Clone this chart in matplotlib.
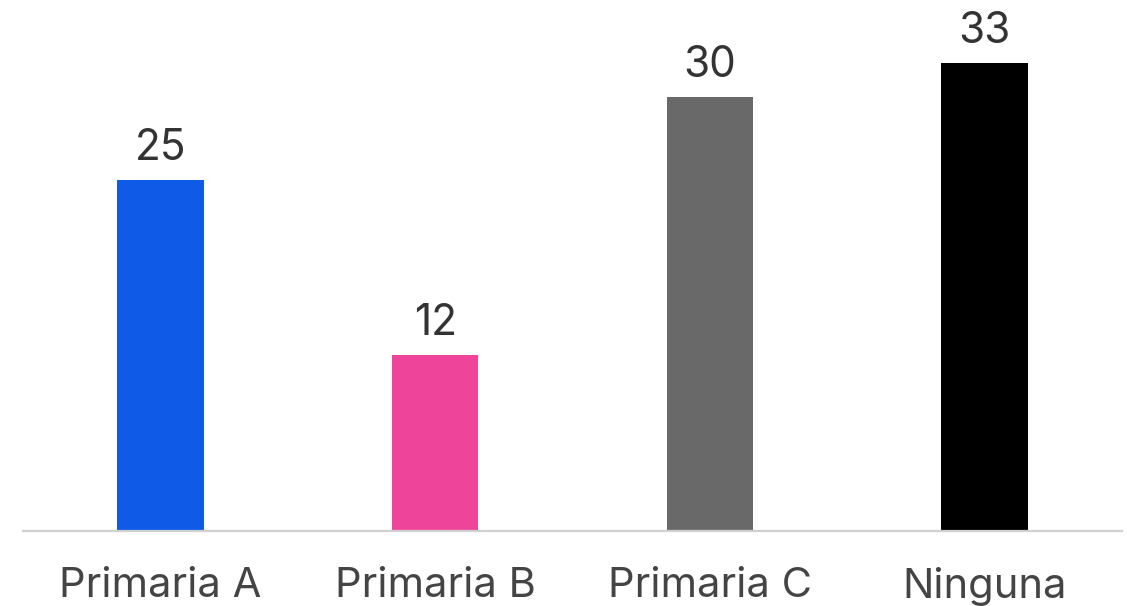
import matplotlib
matplotlib.use('Agg')
import matplotlib.pyplot as plt

# data
categories = ['Primaria A', 'Primaria B', 'Primaria C', 'Ninguna']
values = [24.6, 12.3, 30.4, 32.8]
value_labels = ['25', '12', '30', '33']
colors = ['#0f5ae6', '#ee4499', '#696969', '#000000']

plt.rcParams['font.family'] = ['Inter', 'DejaVu Sans']

fig = plt.figure(figsize=(11.27, 6.06), dpi=100)
ax = fig.add_axes([23 / 1127, 75 / 606, 1099 / 1127, 531 / 606])

x = range(len(categories))
bars = ax.bar(x, values, width=0.315, color=colors)

for b, lab in zip(bars, value_labels):
    ax.annotate(lab, (b.get_x() + b.get_width() / 2, b.get_height()),
                xytext=(0, 8), textcoords='offset points',
                ha='center', va='bottom', fontsize=30.5, color='#333333')

ax.set_xlim(-0.5, 3.5)
ax.set_ylim(0, 37.2)
ax.set_xticks(list(x))
ax.set_xticklabels(categories, fontsize=30, color='#444444')
ax.tick_params(axis='x', length=0, pad=26)
ax.set_yticks([])
for s in ['top', 'right', 'left']:
    ax.spines[s].set_visible(False)
ax.spines['bottom'].set_color('#d0d0d0')
ax.spines['bottom'].set_linewidth(1.6)

fig.savefig('out.png', dpi=100)
